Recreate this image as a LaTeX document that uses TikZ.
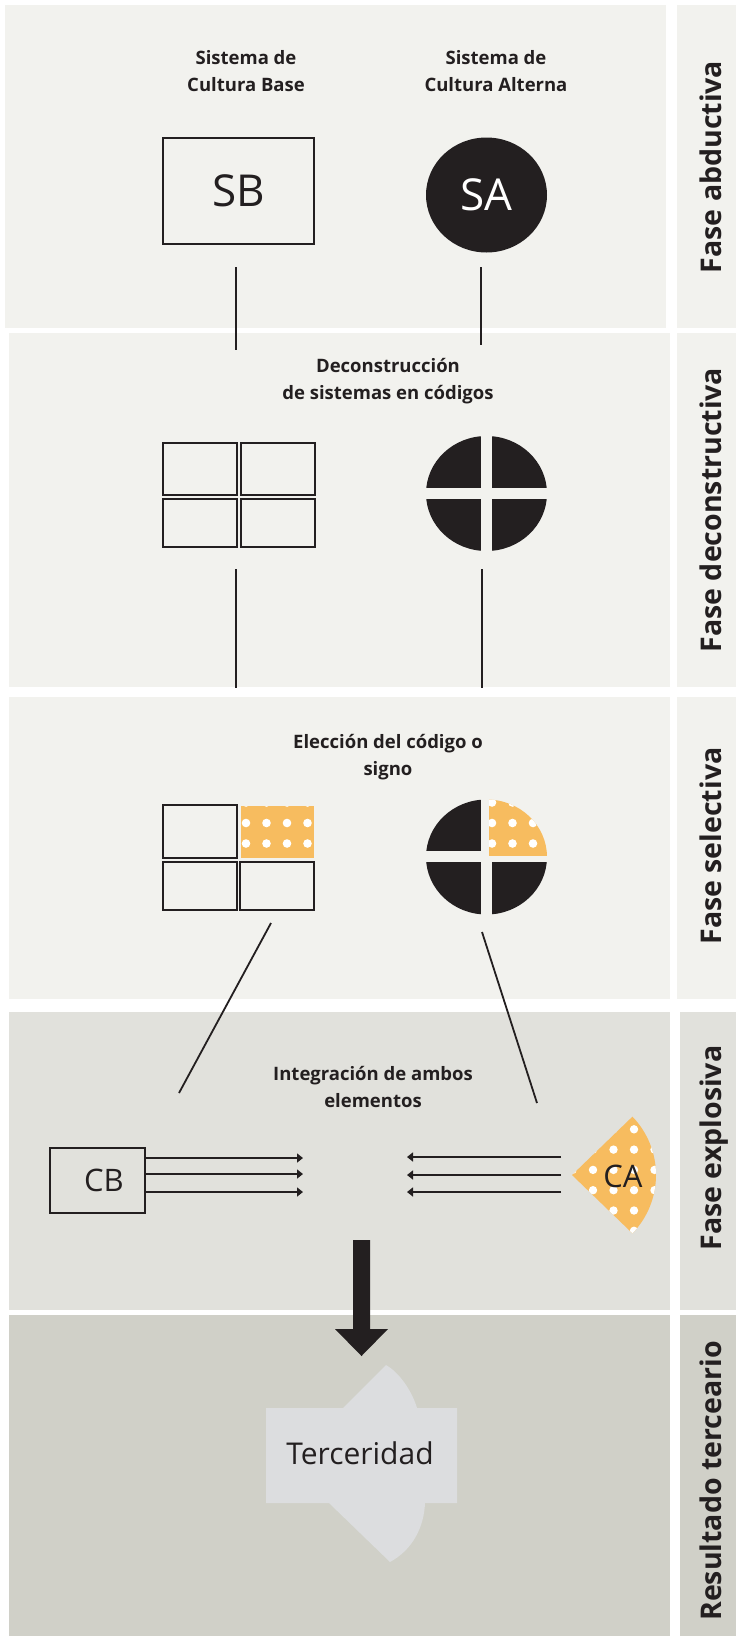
\documentclass[tikz,border=0pt]{standalone}
\usepackage{fontspec}
\setmainfont{Open Sans}
\usetikzlibrary{shapes.geometric,arrows.meta}

\definecolor{ink}{HTML}{231F20}
\definecolor{fondo}{HTML}{F2F2EE}
\definecolor{fondob}{HTML}{E1E1DC}
\definecolor{fondoc}{HTML}{D0D0C8}
\definecolor{naranja}{HTML}{F7BC5F}
\definecolor{tercer}{HTML}{DCDDDF}

\tikzset{
  titulo/.style={align=center, text=ink, font=\bfseries\fontsize{18.5}{26.5}\selectfont},
  fase/.style={rotate=90, anchor=base, text=ink, font=\bfseries\fontsize{28.5}{30}\selectfont},
  caja/.style={draw=ink, line width=2pt, inner sep=0pt, text=ink, font=\fontsize{44}{44}\selectfont},
  celda/.style={draw=ink, line width=2pt, inner sep=0pt, minimum width=74pt},
  linea/.style={draw=ink, line width=1.8pt},
  flecha/.style={draw=ink, line width=2pt, -{Triangle[length=6pt,width=9pt]}},
  punto/.style={fill=white},
}

\begin{document}
\begin{tikzpicture}[x=1pt,y=-1pt]
\useasboundingbox (0,0) rectangle (737,1636);
% paneles
\fill[fondo] (5,5) rectangle (666,328);
\fill[fondo] (677,5) rectangle (736,328);
\fill[fondo] (9,333) rectangle (670,687);
\fill[fondo] (677,333) rectangle (736,687);
\fill[fondo] (9,697) rectangle (670,999);
\fill[fondo] (677,697) rectangle (736,999);
\fill[fondob] (9,1012) rectangle (670,1310);
\fill[fondob] (680,1012) rectangle (736,1310);
\fill[fondoc] (9,1315) rectangle (670,1636);
\fill[fondoc] (680,1315) rectangle (736,1636);

% fases
\node[fase] (f1) at (721,167) {Fase abductiva};
\node[fase] (f2) at (721,510) {Fase deconstructiva};
\node[fase] (f3) at (721,846) {Fase selectiva};
\node[fase] (f4) at (721,1148) {Fase explosiva};
\node[fase] (f5) at (721,1481) {Resultado terceario};

% fase abductiva
\node[titulo] (tsb) at (246,71) {Sistema de\\Cultura Base};
\node[titulo] (tsa) at (496,71) {Sistema de\\Cultura Alterna};
\node[caja, minimum width=151pt, minimum height=106pt] (sb) at (238.5,191) {SB};
\node[ellipse, fill=ink, minimum width=121pt, minimum height=115pt, inner sep=0pt,
  text=white, font=\fontsize{44}{44}\selectfont] (sa) at (486.5,195) {SA};
\coordinate (sb1) at (236,267);
\coordinate (sb2) at (236,350);
\coordinate (sa1) at (481,267);
\coordinate (sa2) at (481,345);
\draw[linea] (sb1) -- (sb2);
\draw[linea] (sa1) -- (sa2);

% fase deconstructiva
\node[titulo] (tdec) at (388,381) {Deconstrucción\\de sistemas en códigos};
\node[celda, minimum height=52pt] (a11) at (200,469) {};
\node[celda, minimum height=52pt] (a12) at (277.5,469) {};
\node[celda, minimum height=48pt] (a21) at (200,523) {};
\node[celda, minimum height=48pt] (a22) at (277.5,523) {};
\begin{scope}
  \clip (486.5,493.5) ellipse[x radius=60.5, y radius=57.5];
  \fill[ink] (420,430) rectangle (481,488);
  \fill[ink] (492,430) rectangle (550,488);
  \fill[ink] (420,499) rectangle (481,560);
  \fill[ink] (492,499) rectangle (550,560);
\end{scope}
\coordinate (d1) at (236,569);
\coordinate (d2) at (236,688);
\coordinate (d3) at (482,569);
\coordinate (d4) at (482,688);
\draw[linea] (d1) -- (d2);
\draw[linea] (d3) -- (d4);

% fase selectiva
\node[titulo] (tele) at (388,757) {Elección del código o\\signo};
\node[celda, minimum height=53pt] (b11) at (200,831.5) {};
\node[celda, minimum height=48pt] (b21) at (200,886) {};
\node[celda, minimum height=48pt] (b22) at (277,886) {};
\begin{scope}
  \clip (241,806) rectangle (314,858);
  \fill[naranja] (241,806) rectangle (314,858);
  \foreach \x in {246,266.5,287,307.5}
    \foreach \y in {802.5,823,843.5}
      \fill[punto] (\x,\y) circle[radius=4.3];
\end{scope}
\begin{scope}
  \clip (486.5,857) ellipse[x radius=60.5, y radius=57.5];
  \fill[ink] (420,790) rectangle (481,851);
  \fill[ink] (420,862) rectangle (481,925);
  \fill[ink] (492,862) rectangle (550,925);
  \clip (489,790) rectangle (550,856);
  \fill[naranja] (489,790) rectangle (550,856);
  \foreach \x in {492,512.5,533}
    \foreach \y in {802.5,823,843.5}
      \fill[punto] (\x,\y) circle[radius=4.3];
\end{scope}
\coordinate (s1) at (271,923);
\coordinate (s2) at (179,1093);
\coordinate (s3) at (482,932);
\coordinate (s4) at (537,1103);
\draw[linea] (s1) -- (s2);
\draw[linea] (s3) -- (s4);

% fase explosiva
\node[titulo] (tint) at (373,1087) {Integración de ambos\\elementos};
\node[caja, minimum width=95pt, minimum height=65pt, font=\fontsize{31}{31}\selectfont] (cb) at (97.5,1180.5) {\hspace{13pt}CB};
\foreach \y in {1158,1174,1192}
  \draw[flecha] (cb.east |- 0,\y) -- (303,\y);
\begin{scope}
  \clip (572,1175) -- ++(44:84) arc[start angle=44, end angle=-44, radius=84] -- cycle;
  \fill[naranja] (560,1100) rectangle (660,1250);
  \foreach \x in {572.5,593,613.5,634,654.5}
    \foreach \y in {1109,1129.3,1149.6,1169.9,1190.2,1210.5,1230.8}
      \fill[punto] (\x,\y) circle[radius=4.2];
\end{scope}
\node[text=ink, font=\fontsize{31}{31}\selectfont] (ca) at (623,1176) {CA};
\foreach \y in {1157,1175,1192}
  \draw[flecha] (561,\y) -- (407,\y);

% resultado
\fill[ink] (353,1240) -- (370,1240) -- (370,1329) -- (388,1329) -- (361.5,1356)
  -- (335,1329) -- (353,1329) -- cycle;
\fill[tercer] (266,1408) -- (343,1408) -- (386,1365)
  .. controls (397,1371) and (411,1388) .. (417,1408) -- (457,1408) -- (457,1503)
  -- (425,1503) .. controls (424,1528) and (412,1550) .. (390,1562) -- (329,1503)
  -- (266,1503) -- cycle;
\node[text=ink, font=\fontsize{30}{30}\selectfont] (ter) at (360,1453) {Terceridad};
\end{tikzpicture}
\end{document}
